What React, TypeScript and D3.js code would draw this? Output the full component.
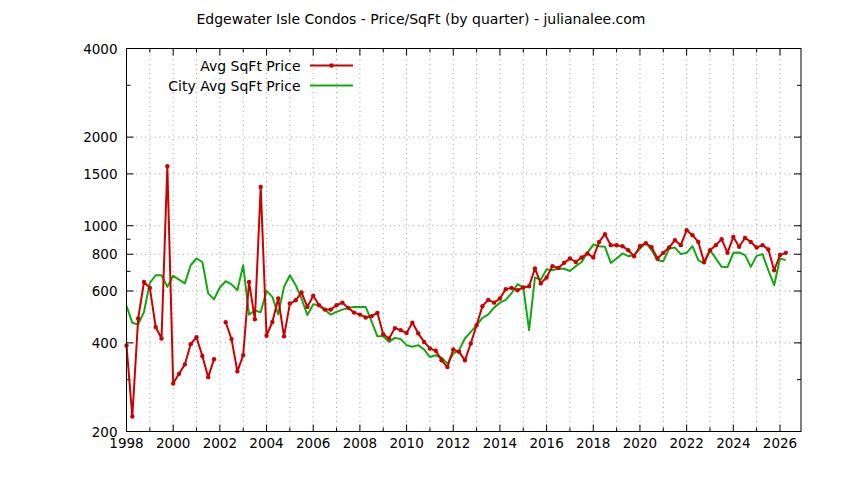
import * as d3 from "d3";

// quarterly values, 1998 Q1 .. 2026 Q2 (null = no sales that quarter)
const avgSqftPrice: (number | null)[] = [
  392, 225, 484, 644, // 1998
  615, 453, 414, 1592, // 1999
  291, 314, 338, 396, // 2000
  418, 361, 306, 352, // 2001
  null, 470, 412, 320, // 2002
  363, 644, 481, 1355, // 2003
  423, 471, 566, 421, // 2004
  544, 558, 593, 530, // 2005
  578, 537, 519, 519, // 2006
  537, 548, 526, 507, // 2007
  499, 488, 493, 506, // 2008
  428, 414, 449, 442, // 2009
  432, 468, 431, 403, // 2010
  383, 376, 349, 331, // 2011
  380, 373, 349, 398, // 2012
  459, 533, 560, 548, // 2013
  566, 609, 615, 604, // 2014
  617, 623, 716, 637, // 2015
  667, 729, 719, 748, // 2016
  774, 753, 780, 805, // 2017
  780, 881, 936, 859, // 2018
  859, 852, 826, 788, // 2019
  852, 872, 846, 774, // 2020
  809, 843, 893, 859, // 2021
  966, 929, 881, 753, // 2022
  826, 859, 900, 809, // 2023
  916, 848, 909, 881, // 2024
  843, 859, 831, 706, // 2025
  795, 809, // 2026
];

const cityAvgSqftPrice: number[] = [
  534, 468, 462, 510,
  639, 679, 679, 620,
  676, 656, 637, 734,
  774, 753, 589, 562,
  617, 648, 632, 604,
  734, 499, 515, 508,
  601, 573, 500, 620,
  679, 628, 565, 497,
  541, 537, 517, 499,
  510, 519, 526, 530,
  530, 530, 473, 421,
  421, 403, 416, 412,
  393, 388, 393, 380,
  358, 363, 356, 340,
  368, 378, 414, 436,
  459, 486, 500, 527,
  548, 560, 590, 633,
  617, 442, 667, 656,
  712, 706, 716, 714,
  702, 729, 753, 809,
  863, 852, 848, 748,
  774, 805, 788, 795,
  835, 878, 825, 764,
  758, 837, 843, 801,
  809, 852, 764, 744,
  826, 774, 725, 723,
  809, 811, 795, 725,
  790, 801, 706, 628,
  774, 764,
];

const firstYear = 1998;
const xLabelYears = [1998, 2000, 2002, 2004, 2006, 2008, 2010, 2012, 2014, 2016, 2018, 2020, 2022, 2024, 2026];
const yMajorTicks = [200, 400, 600, 800, 1000, 1500, 2000, 4000];
const yMinorTicks = [300, 700, 900, 3000];
const yGridTicks = [400, 600, 800, 1000, 1500, 2000];

const W = 844;
const H = 480;
const margin = { top: 48.5, right: 43, bottom: 48.5, left: 126.5 };
const RED = "#cc0000";
const GREEN = "#10aa10";
const FONT = "'DejaVu Sans', Verdana, sans-serif";

export default function App() {
  const x = d3.scaleLinear().domain([1998, 2026.9]).range([margin.left, W - margin.right]);
  const y = d3.scaleLog().domain([200, 4000]).range([H - margin.bottom, margin.top]);
  const top = margin.top;
  const bottom = H - margin.bottom;
  const left = margin.left;
  const right = W - margin.right;

  const avgPts = avgSqftPrice.map((v, i) => ({ t: firstYear + i / 4, v }));
  const cityPts = cityAvgSqftPrice.map((v, i) => ({ t: firstYear + i / 4, v }));

  const line = d3
    .line<{ t: number; v: number | null }>()
    .defined((d) => d.v != null)
    .x((d) => x(d.t))
    .y((d) => y(d.v as number));

  const allYears = d3.range(1998, 2027);

  return (
    <svg
      width={W}
      height={H}
      style={{ position: "absolute", left: 0, top: 0, background: "#fff" }}
      fontFamily={FONT}
    >
      <text x={421} y={24} textAnchor="middle" fontSize={14} fill="#000">
        Edgewater Isle Condos - Price/SqFt (by quarter) - julianalee.com
      </text>

      {/* grid */}
      <g stroke="#999" strokeWidth={1} strokeDasharray="1 3.7">
        {allYears
          .filter((yr) => yr > 1998)
          .map((yr) => (
            <line key={"gx" + yr} x1={x(yr)} x2={x(yr)} y1={bottom} y2={top} />
          ))}
        {yGridTicks.map((v) => (
          <line key={"gy" + v} x1={left} x2={right} y1={y(v)} y2={y(v)} />
        ))}
      </g>

      {/* ticks */}
      <g stroke="#000" strokeWidth={1}>
        {allYears.map((yr) => {
          const len = yr % 2 === 0 ? 7 : 4;
          return (
            <g key={"tx" + yr}>
              <line x1={x(yr)} x2={x(yr)} y1={bottom} y2={bottom - len} />
              <line x1={x(yr)} x2={x(yr)} y1={top} y2={top + len} />
            </g>
          );
        })}
        {yMajorTicks.map((v) => (
          <g key={"ty" + v}>
            <line x1={left} x2={left + 7} y1={y(v)} y2={y(v)} />
            <line x1={right} x2={right - 7} y1={y(v)} y2={y(v)} />
          </g>
        ))}
        {yMinorTicks.map((v) => (
          <g key={"tm" + v}>
            <line x1={left} x2={left + 4} y1={y(v)} y2={y(v)} />
            <line x1={right} x2={right - 4} y1={y(v)} y2={y(v)} />
          </g>
        ))}
      </g>

      {/* tick labels */}
      <g fontSize={13.5} fill="#000">
        {xLabelYears.map((yr) => (
          <text key={"lx" + yr} x={x(yr)} y={447.5} textAnchor="middle">
            {yr}
          </text>
        ))}
        {yMajorTicks.map((v) => (
          <text key={"ly" + v} x={117.5} y={y(v) + 5} textAnchor="end">
            {v}
          </text>
        ))}
      </g>

      {/* series */}
      <path d={line(cityPts) ?? ""} fill="none" stroke={GREEN} strokeWidth={2} strokeLinejoin="round" />
      <path d={line(avgPts) ?? ""} fill="none" stroke={RED} strokeWidth={2} strokeLinejoin="round" />
      {avgPts
        .filter((d) => d.v != null)
        .map((d, i) => (
          <circle key={"p" + i} cx={x(d.t)} cy={y(d.v as number)} r={2.2} fill={RED} />
        ))}

      {/* legend */}
      <g fontSize={14} fill="#000">
        <text x={300.5} y={70.5} textAnchor="end">Avg SqFt Price</text>
        <line x1={310} x2={353} y1={65.5} y2={65.5} stroke={RED} strokeWidth={2} />
        <circle cx={331.5} cy={65.5} r={2.2} fill={RED} />
        <text x={300.5} y={90.5} textAnchor="end">City Avg SqFt Price</text>
        <line x1={310} x2={353} y1={85.5} y2={85.5} stroke={GREEN} strokeWidth={2} />
      </g>

      {/* border */}
      <rect x={left} y={top} width={right - left} height={bottom - top} fill="none" stroke="#000" strokeWidth={1} />
    </svg>
  );
}
